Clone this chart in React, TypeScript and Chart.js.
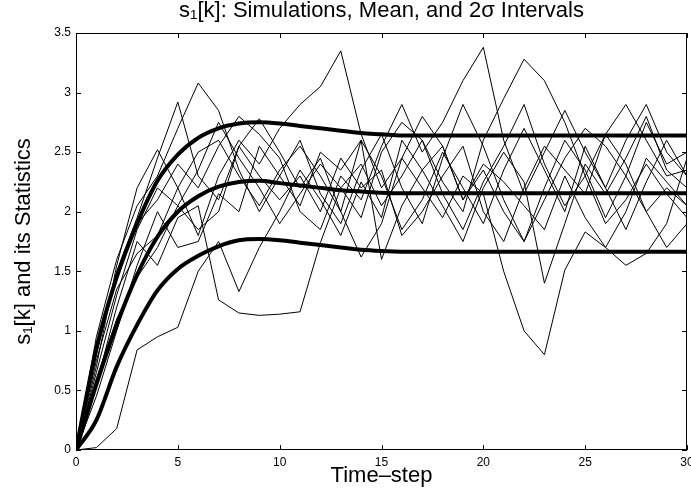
import React, { useEffect, useRef } from "react";
import { Chart, registerables } from "chart.js";

Chart.register(...registerables);

const FONT = "'Liberation Sans', Arial, Helvetica, sans-serif";

const chartTitle = "s\u2081[k]: Simulations, Mean, and 2\u03c3 Intervals";
const xAxisTitle = "Time\u2013step";
const yAxisTitle = "s\u2081[k] and its Statistics";

const timeSteps = [0, 1, 2, 3, 4, 5, 6, 7, 8, 9, 10, 11, 12, 13, 14, 15, 16, 17, 18, 19, 20, 21, 22, 23, 24, 25, 26, 27, 28, 29, 30];

const xTickValues = [0, 5, 10, 15, 20, 25, 30];
const yTickValues = [0, 0.5, 1, 1.5, 2, 2.5, 3, 3.5];
const yTickLabels = ["0", "0.5", "1", "1.5", "2", "2.5", "3", "3.5"];
const xTickLabels = ["0", "5", "10", "15", "20", "25", "30"];

// Statistics (thick lines)
const upperBand = [0, 0.85, 1.45, 1.9, 2.26, 2.48, 2.62, 2.7, 2.74, 2.75, 2.74, 2.72, 2.7, 2.68, 2.66, 2.65, 2.64, 2.64, 2.64, 2.64, 2.64, 2.64, 2.64, 2.64, 2.64, 2.64, 2.64, 2.64, 2.64, 2.64, 2.64];
const meanLine = [0, 0.55, 1.05, 1.47, 1.79, 2.0, 2.13, 2.21, 2.25, 2.26, 2.24, 2.22, 2.2, 2.18, 2.17, 2.16, 2.155, 2.155, 2.155, 2.155, 2.155, 2.155, 2.155, 2.155, 2.155, 2.155, 2.155, 2.155, 2.155, 2.155, 2.155];
const lowerBand = [0, 0.25, 0.7, 1.05, 1.34, 1.52, 1.63, 1.71, 1.76, 1.77, 1.76, 1.74, 1.72, 1.7, 1.68, 1.67, 1.665, 1.665, 1.665, 1.665, 1.665, 1.665, 1.665, 1.665, 1.665, 1.665, 1.665, 1.665, 1.665, 1.665, 1.665];

// Simulation runs (thin lines)
const sim1 = [0, 0.95, 1.6, 2.05, 2.3, 2.7, 3.08, 2.85, 2.35, 2.0, 2.3, 2.6, 2.15, 1.9, 2.35, 2.65, 2.2, 1.9, 2.45, 2.9, 2.55, 2.1, 1.75, 2.2, 2.6, 2.35, 1.95, 2.3, 2.75, 2.4, 2.5];
const sim2 = [0, 0.8, 1.5, 1.95, 2.45, 2.92, 2.3, 2.1, 2.55, 2.78, 2.5, 2.2, 2.45, 2.0, 2.6, 2.3, 1.85, 2.1, 2.5, 2.2, 1.9, 2.35, 2.7, 2.35, 2.0, 2.55, 2.2, 1.85, 2.25, 2.6, 2.3];
const sim3 = [0, 0.7, 1.55, 2.2, 2.52, 2.2, 1.8, 2.3, 2.6, 2.4, 2.7, 2.9, 3.05, 3.35, 2.65, 2.2, 2.45, 2.8, 2.55, 2.1, 2.35, 2.0, 1.75, 2.1, 2.45, 2.7, 2.55, 2.3, 2.0, 1.7, 1.9];
const sim4 = [0, 0.55, 1.2, 1.75, 1.55, 1.95, 2.05, 1.26, 1.15, 1.13, 1.14, 1.16, 1.74, 2.2, 2.4, 2.05, 2.3, 2.6, 2.15, 1.85, 2.25, 2.55, 2.9, 2.4, 2.05, 2.3, 2.65, 2.4, 2.0, 2.2, 2.05];
const sim5 = [0, 0.02, 0.18, 0.84, 0.95, 1.03, 1.5, 1.75, 1.33, 1.7, 2.0, 2.35, 2.1, 1.8, 2.25, 1.95, 2.6, 2.35, 2.05, 1.75, 2.2, 2.5, 2.25, 1.4, 1.9, 2.4, 2.15, 2.45, 2.8, 2.35, 2.2];
const sim6 = [0, 0.9, 1.45, 1.9, 2.1, 2.4, 2.2, 2.55, 2.8, 2.65, 2.45, 2.0, 1.85, 2.3, 2.1, 2.55, 2.9, 2.5, 2.75, 3.1, 3.38, 2.6, 2.15, 2.5, 2.85, 2.5, 2.2, 2.6, 2.9, 2.5, 2.3];
const sim7 = [0, 0.65, 1.3, 1.85, 2.2, 2.05, 2.35, 2.75, 2.45, 2.2, 1.9, 2.15, 2.4, 2.2, 1.95, 2.5, 2.75, 2.6, 2.25, 2.0, 2.6, 2.95, 3.28, 3.1, 2.75, 2.3, 1.9, 2.1, 2.4, 2.15, 1.95];
const sim8 = [0, 0.75, 1.35, 1.65, 1.8, 2.2, 2.5, 2.6, 2.3, 2.05, 2.35, 2.55, 2.3, 2.0, 1.62, 1.9, 2.45, 2.2, 1.95, 2.3, 2.15, 1.5, 1.0, 0.8, 1.51, 1.83, 1.7, 2.0, 2.45, 2.25, 2.05];
const sim9 = [0, 0.45, 1.0, 1.55, 2.0, 1.7, 1.75, 2.15, 2.0, 2.55, 2.3, 2.05, 2.5, 2.35, 2.6, 1.6, 2.05, 2.35, 2.55, 2.1, 2.4, 2.25, 2.05, 1.85, 2.3, 1.95, 1.7, 1.55, 1.65, 1.9, 2.45];
const sim10 = [0, 0.6, 1.1, 1.45, 1.7, 2.05, 1.85, 2.0, 2.55, 2.3, 2.1, 2.3, 2.0, 2.45, 2.2, 2.35, 1.8, 2.0, 2.3, 2.55, 2.0, 1.75, 2.2, 2.55, 2.35, 2.15, 2.65, 2.9, 2.6, 2.3, 2.35];

const simulations = [sim1, sim2, sim3, sim4, sim5, sim6, sim7, sim8, sim9, sim10];
const statistics = [upperBand, meanLine, lowerBand];

const toPoints = (values: number[]) => timeSteps.map((t, i) => ({ x: t, y: values[i] }));

const framePlugin = {
  id: "matlabFrame",
  afterDatasetsDraw(chart: any) {
    const { ctx, chartArea, scales } = chart;
    const { left, right, top, bottom } = chartArea;
    const tick = 5;
    ctx.save();
    ctx.strokeStyle = "#000";
    ctx.lineWidth = 1;
    ctx.beginPath();
    for (const v of xTickValues) {
      const px = Math.round(scales.x.getPixelForValue(v)) + 0.5;
      ctx.moveTo(px, bottom);
      ctx.lineTo(px, bottom - tick);
      ctx.moveTo(px, top);
      ctx.lineTo(px, top + tick);
    }
    for (const v of yTickValues) {
      const py = Math.round(scales.y.getPixelForValue(v)) + 0.5;
      ctx.moveTo(left, py);
      ctx.lineTo(left + tick, py);
      ctx.moveTo(right, py);
      ctx.lineTo(right - tick, py);
    }
    ctx.stroke();
    ctx.strokeRect(Math.round(left) + 0.5, Math.round(top) + 0.5, Math.round(right - left) - 1, Math.round(bottom - top) - 1);
    ctx.restore();
  },
};

export default function App() {
  const canvasRef = useRef<HTMLCanvasElement | null>(null);

  useEffect(() => {
    if (!canvasRef.current) return;
    Chart.defaults.font.family = FONT;
    const datasets: any[] = [];
    statistics.forEach((s) => {
      datasets.push({
        data: toPoints(s),
        borderColor: "#000",
        borderWidth: 4,
        pointRadius: 0,
        cubicInterpolationMode: "monotone",
        fill: false,
      });
    });
    simulations.forEach((s) => {
      datasets.push({
        data: toPoints(s),
        borderColor: "#000",
        borderWidth: 1,
        pointRadius: 0,
        tension: 0,
        fill: false,
      });
    });

    const chart = new Chart(canvasRef.current, {
      type: "line",
      data: { datasets },
      plugins: [framePlugin],
      options: {
        animation: false,
        responsive: false,
        devicePixelRatio: 1,
        layout: { padding: { top: 0, right: 4, bottom: 0, left: 0 } },
        plugins: {
          legend: { display: false },
          tooltip: { enabled: false },
          title: {
            display: true,
            text: chartTitle,
            fullSize: false,
            color: "#000",
            font: { size: 22, weight: "normal", lineHeight: 1 },
            padding: { top: 0, bottom: 11 },
          },
        },
        scales: {
          x: {
            type: "linear",
            min: 0,
            max: 30,
            afterBuildTicks: (s: any) => {
              s.ticks = xTickValues.map((v) => ({ value: v }));
            },
            afterFit: (s: any) => {
              s.height = 42;
              s.paddingLeft = 0;
              s.paddingRight = 0;
            },
            grid: { display: false, drawTicks: false },
            border: { display: false },
            ticks: {
              color: "#000",
              font: { size: 12 },
              padding: 5,
              maxRotation: 0,
              autoSkip: false,
              callback: (v: any) => xTickLabels[xTickValues.indexOf(Number(v))] ?? String(v),
            },
            title: {
              display: true,
              text: xAxisTitle,
              color: "#000",
              font: { size: 22, lineHeight: 1 },
              padding: { top: 0, bottom: 5 },
            },
          },
          y: {
            type: "linear",
            min: 0,
            max: 3.5,
            afterBuildTicks: (s: any) => {
              s.ticks = yTickValues.map((v) => ({ value: v }));
            },
            afterFit: (s: any) => {
              s.width = 76;
            },
            grid: { display: false, drawTicks: false },
            border: { display: false },
            ticks: {
              color: "#000",
              font: { size: 12 },
              padding: 5,
              autoSkip: false,
              callback: (v: any) => yTickLabels[yTickValues.indexOf(Number(v))] ?? String(v),
            },
            title: {
              display: true,
              text: yAxisTitle,
              color: "#000",
              font: { size: 22, lineHeight: 1 },
              padding: { top: 13, bottom: 0 },
            },
          },
        },
      },
    });
    return () => chart.destroy();
  }, []);

  return (
    <div style={{ position: "absolute", left: 0, top: 0, width: 691, height: 492, background: "#fff" }}>
      <canvas ref={canvasRef} width={691} height={492} style={{ display: "block" }} />
    </div>
  );
}
